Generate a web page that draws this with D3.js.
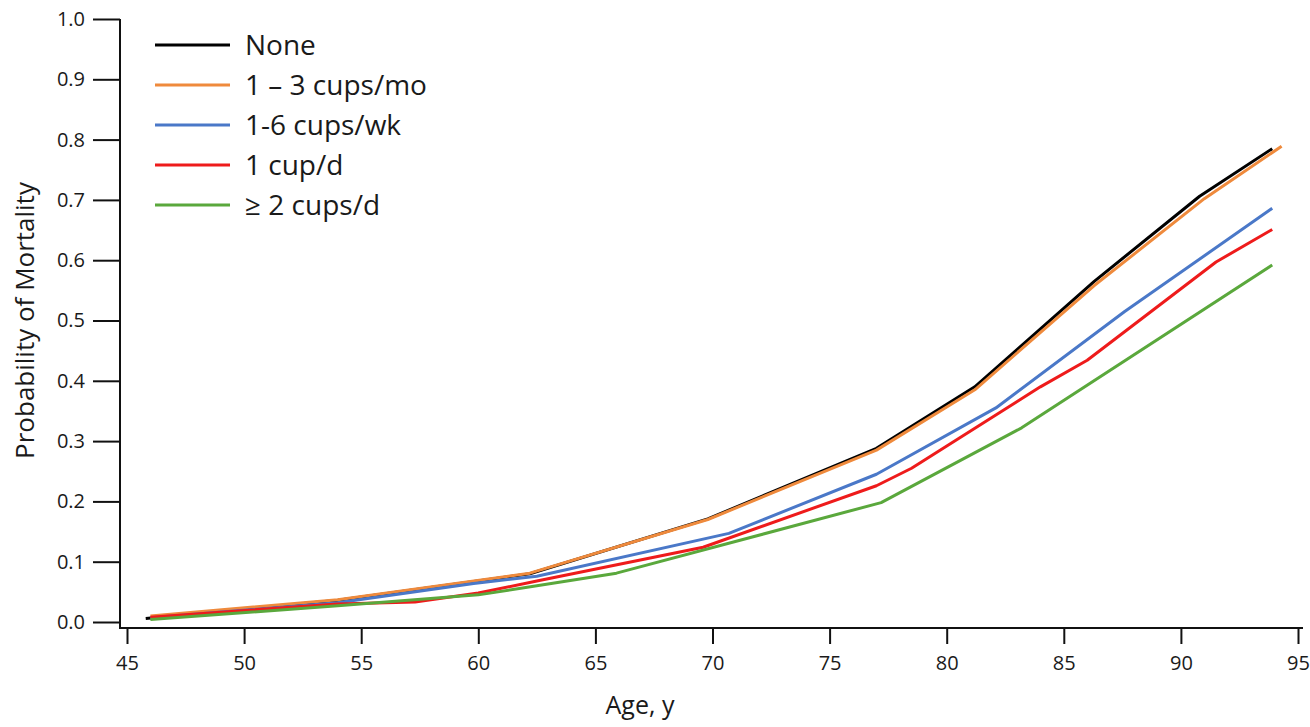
<!DOCTYPE html>
<html>
<head>
<meta charset="utf-8">
<script src="https://cdn.jsdelivr.net/npm/d3@7"></script>
<style>
  body { margin: 0; background: #fff; }
  #chart { width: 1310px; height: 727px; }
  text { font-family: "Open Sans", "Noto Sans", Arial, sans-serif; fill: #1a1a1a; }
</style>
</head>
<body>
<div id="chart"></div>
<script>
// ---- data (age in years, probability of mortality) ----
const seriesNames = ["None", "1 \u2013 3 cups/mo", "1-6 cups/wk", "1 cup/d", "\u2265 2 cups/d"];
const seriesColors = ["#000000", "#ef8a3c", "#4a78c8", "#ee1b1b", "#5aa83c"];

const noneVals = [[45.8, 0.006], [54.0, 0.036], [62.2, 0.080], [69.8, 0.171], [77.0, 0.288],
  [81.2, 0.390], [86.3, 0.565], [90.8, 0.706], [93.9, 0.785]];
const monthVals = [[46.0, 0.010], [54.0, 0.037], [62.2, 0.081], [69.8, 0.170], [77.0, 0.285],
  [81.2, 0.385], [86.3, 0.558], [91.0, 0.702], [94.3, 0.789]];
const weekVals = [[46.0, 0.007], [54.0, 0.032], [59.8, 0.064], [62.5, 0.076], [70.7, 0.147],
  [77.0, 0.245], [82.1, 0.355], [87.6, 0.515], [93.9, 0.686]];
const cupVals = [[46.0, 0.008], [54.0, 0.030], [57.3, 0.033], [60.0, 0.048], [62.5, 0.068],
  [69.6, 0.124], [77.0, 0.226], [78.5, 0.255], [84.0, 0.390], [86.0, 0.434], [91.5, 0.597], [93.9, 0.651]];
const twoVals = [[46.0, 0.004], [54.0, 0.027], [60.0, 0.045], [62.5, 0.060], [65.9, 0.081],
  [77.2, 0.198], [83.2, 0.322], [93.9, 0.592]];

const xTicks = [45, 50, 55, 60, 65, 70, 75, 80, 85, 90, 95];
const yTicks = [0.0, 0.1, 0.2, 0.3, 0.4, 0.5, 0.6, 0.7, 0.8, 0.9, 1.0];

const series = [
  { name: seriesNames[0], color: seriesColors[0], values: noneVals },
  { name: seriesNames[1], color: seriesColors[1], values: monthVals },
  { name: seriesNames[2], color: seriesColors[2], values: weekVals },
  { name: seriesNames[3], color: seriesColors[3], values: cupVals },
  { name: seriesNames[4], color: seriesColors[4], values: twoVals }
];

const width = 1310, height = 727;

const svg = d3.select("#chart").append("svg")
  .attr("width", width)
  .attr("height", height);

// scales
const x = d3.scaleLinear().domain([45, 95]).range([127, 1298]);
const y = d3.scaleLinear().domain([0, 1]).range([622, 19]);

const axisX0 = 120;   // y axis position
const axisY0 = 628;   // x axis position

// ---- x axis ----
const xAxis = svg.append("g")
  .attr("transform", `translate(0,${axisY0})`)
  .call(d3.axisBottom(x).tickValues(xTicks).tickFormat(d3.format("d"))
    .tickSize(16).tickPadding(12));
xAxis.select(".domain").remove();
svg.append("line")
  .attr("x1", axisX0).attr("x2", 1303)
  .attr("y1", axisY0).attr("y2", axisY0)
  .attr("stroke", "#111").attr("stroke-width", 2);
xAxis.selectAll(".tick line").attr("stroke", "#111").attr("stroke-width", 2);
xAxis.selectAll(".tick text").attr("font-size", 20).style("font-family", "Open Sans").attr("fill", "#1a1a1a");

// ---- y axis ----
const yAxis = svg.append("g")
  .attr("transform", `translate(${axisX0},0)`)
  .call(d3.axisLeft(y).tickValues(yTicks).tickFormat(d3.format(".1f"))
    .tickSize(27).tickPadding(8));
yAxis.select(".domain").remove();
svg.append("line")
  .attr("x1", axisX0).attr("x2", axisX0)
  .attr("y1", y(1)).attr("y2", axisY0 + 1)
  .attr("stroke", "#111").attr("stroke-width", 2);
yAxis.selectAll(".tick line").attr("stroke", "#111").attr("stroke-width", 2);
yAxis.selectAll(".tick text").attr("font-size", 20).style("font-family", "Open Sans").attr("fill", "#1a1a1a");

// axis titles
svg.append("text")
  .attr("transform", `translate(34,${(y(0) + y(1)) / 2}) rotate(-90)`)
  .attr("text-anchor", "middle")
  .attr("font-size", 26)
  .text("Probability of Mortality");

svg.append("text")
  .attr("x", 640)
  .attr("y", 714)
  .attr("text-anchor", "middle")
  .attr("font-size", 25)
  .text("Age, y");

// ---- lines ----
const line = d3.line()
  .x(d => x(d[0]))
  .y(d => y(d[1]));

svg.append("g").selectAll("path")
  .data(series)
  .enter()
  .append("path")
  .attr("fill", "none")
  .attr("stroke", d => d.color)
  .attr("stroke-width", 3)
  .attr("stroke-linejoin", "round")
  .attr("d", d => line(d.values));

// ---- legend ----
const legend = svg.append("g").attr("transform", "translate(155,45)");
const rows = legend.selectAll("g")
  .data(series)
  .enter()
  .append("g")
  .attr("transform", (d, i) => `translate(0,${i * 40})`);

rows.append("line")
  .attr("x1", 0).attr("x2", 75)
  .attr("stroke", d => d.color)
  .attr("stroke-width", 3);

rows.append("text")
  .attr("x", 90)
  .attr("dy", "0.35em")
  .attr("font-size", 28)
  .text(d => d.name);
</script>
</body>
</html>
